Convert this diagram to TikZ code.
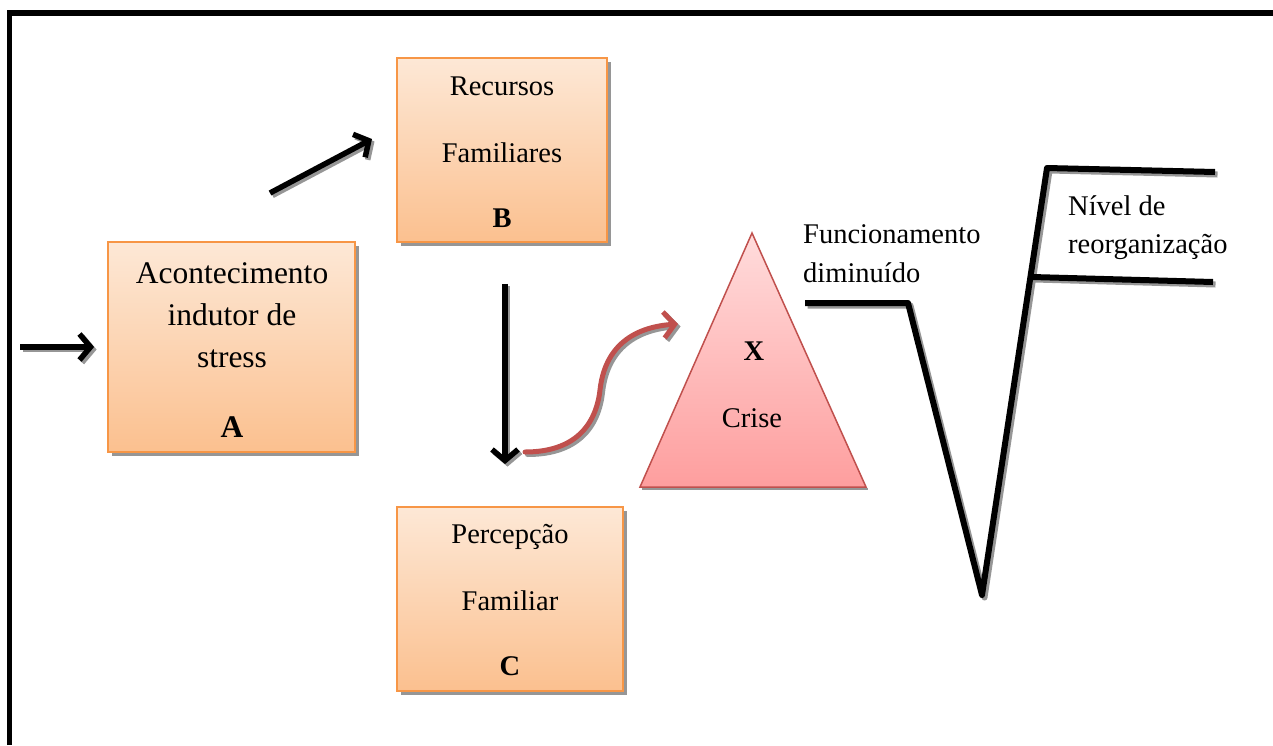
\documentclass[tikz,border=0pt]{standalone}
\usepackage{fontspec}
\setmainfont{Liberation Serif}
\usetikzlibrary{arrows.meta,shadows,calc}

\definecolor{peachtop}{RGB}{253,232,214}
\definecolor{peachbot}{RGB}{251,192,143}
\definecolor{peachedge}{RGB}{247,150,70}
\definecolor{rosetop}{RGB}{255,220,220}
\definecolor{rosebot}{RGB}{254,158,158}
\definecolor{roseedge}{RGB}{192,80,77}
\definecolor{shadowgray}{RGB}{150,150,150}

% draw a path twice: a grey copy shifted down-right, then the path itself
\newcommand\shadowdraw[2]{%
  \draw[#1, draw=shadowgray, transform canvas={shift={(2.5pt,-2.5pt)}}] #2;
  \draw[#1] #2;}

\begin{document}
\begin{tikzpicture}[x=1pt,y=-1pt,
  box/.style={draw=peachedge, line width=1.8pt, top color=peachtop, bottom color=peachbot,
    drop shadow={shadow xshift=3.5pt, shadow yshift=-3.5pt, fill=shadowgray, opacity=1},
    inner sep=0pt},
  big/.style={font=\fontsize{31.5}{42}\selectfont, inner sep=0pt, anchor=base},
  mid/.style={font=\fontsize{28.5}{38}\selectfont, inner sep=0pt, anchor=base},
  flow/.style={line width=5.5pt, -{Straight Barb[length=11pt,width=26pt]}},
  curve/.style={line width=5pt, draw=roseedge, line cap=round, -{Straight Barb[length=11pt,width=26pt]}},
  level/.style={line width=6pt, line join=round}
]
\useasboundingbox (0,0) rectangle (1273,745);

% outer frame (top and left edges)
\draw[line width=5.5pt] (9.5,745) -- (9.5,13) -- (1273,13);

% boxes
\node[box, minimum width=247pt, minimum height=210pt] (A) at (231.5,347) {};
\node[box, minimum width=210pt, minimum height=184pt] (B) at (502,150) {};
\node[box, minimum width=226pt, minimum height=184pt] (C) at (510,599) {};

\node[big] (a1) at (232,283) {Acontecimento};
\node[big] (a2) at (232,325) {indutor de};
\node[big] (a3) at (232,367) {stress};
\node[big] (a4) at (232,437) {\textbf{A}};

\node[mid] (b1) at (502,95) {Recursos};
\node[mid] (b2) at (502,162) {Familiares};
\node[mid] (b3) at (502,227) {\textbf{B}};

\node[mid] (c1) at (510,543) {Percepção};
\node[mid] (c2) at (510,610) {Familiar};
\node[mid] (c3) at (510,675) {\textbf{C}};

% crisis triangle
\coordinate (tA) at (752,233);
\coordinate (tL) at (640,487);
\coordinate (tR) at (866,487);
\fill[shadowgray] ($(tL)+(2,1)$) -- ($(tR)+(2,1)$) -- ($(tR)+(2,3)$) -- ($(tL)+(2,3)$) -- cycle;
\draw[roseedge, line width=1.5pt, top color=rosetop, bottom color=rosebot, line join=miter]
  (tA) -- (tR) -- (tL) -- cycle;
\node[mid] (x1) at (754,360) {\textbf{X}};
\node[mid] (x2) at (752,427) {Crise};

% connectors
\coordinate (inA) at (20,347);
\shadowdraw{flow}{(inA) -- ($(A.west)+(-13,0)$)}
\coordinate (s1) at (270,193);
\coordinate (e1) at (372,139);
\shadowdraw{flow}{(s1) -- (e1)}
\shadowdraw{flow}{($(B.south)+(3,41)$) -- ($(C.north)+(-5,-42)$)}
\coordinate (s2) at (525,452);
\coordinate (e2) at (678,324);
\shadowdraw{curve}{(s2) .. controls (575,452) and (596,425) .. (600,390)
  .. controls (605,345) and (635,327) .. (e2)}

% functioning level curve
\coordinate (f0) at (805,303);
\coordinate (f1) at (908,303);
\coordinate (f2) at (982,595);
\coordinate (f3) at (1047,168);
\coordinate (f4) at (1215,172);
\shadowdraw{level}{(f0) -- (f1) -- (f2) -- (f3) -- (f4)}
\coordinate (g0) at (1032,277);
\coordinate (g1) at (1213,282);
\shadowdraw{level}{(g0) -- (g1)}

\node[mid] (fn1) at (803,243) [anchor=base west] {Funcionamento};
\node[mid] (fn2) at (803,282) [anchor=base west] {diminuído};
\node[mid] (nv1) at (1068,215) [anchor=base west] {Nível de};
\node[mid] (nv2) at (1068,253) [anchor=base west] {reorganização};
\end{tikzpicture}
\end{document}
